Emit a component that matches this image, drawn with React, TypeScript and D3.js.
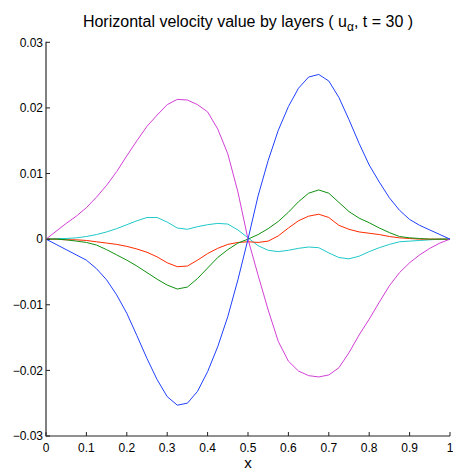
import React from "react";
import * as d3 from "d3";

const xs: number[] = [
  0, 0.025, 0.05, 0.075, 0.1, 0.125, 0.15, 0.175, 0.2, 0.225, 0.25, 0.275, 0.3, 0.325, 0.35, 0.375, 0.4, 0.425, 0.45, 0.475,
  0.5, 0.525, 0.55, 0.575, 0.6, 0.625, 0.65, 0.675, 0.7, 0.725, 0.75, 0.775, 0.8, 0.825, 0.85, 0.875, 0.9, 0.925, 0.95, 0.975, 1,
];

const blue: number[] = [
  0, -0.0008, -0.0016, -0.0024, -0.0032, -0.0045, -0.0062, -0.0085, -0.0113, -0.0147, -0.0182, -0.0214, -0.024, -0.0253, -0.025,
  -0.0232, -0.0202, -0.0164, -0.0118, -0.0062, 0.0, 0.0066, 0.012, 0.0166, 0.0202, 0.023, 0.0247, 0.0251, 0.0241, 0.0216, 0.0182,
  0.0146, 0.0113, 0.0087, 0.0063, 0.0044, 0.003, 0.0021, 0.0014, 0.0007, 0,
];

const magenta: number[] = [
  0, 0.0012, 0.0024, 0.0035, 0.0048, 0.0064, 0.0082, 0.0103, 0.0127, 0.015, 0.0172, 0.0189, 0.0205, 0.0213, 0.0212, 0.0205,
  0.0194, 0.0168, 0.013, 0.0072, 0.0, -0.0055, -0.0108, -0.0156, -0.0186, -0.0201, -0.0208, -0.021, -0.0207, -0.0196, -0.0173,
  -0.0146, -0.0122, -0.0096, -0.0071, -0.0051, -0.0036, -0.0024, -0.0014, -0.0006, 0,
];

const green: number[] = [
  0, 0, -0.0001, -0.0003, -0.0005, -0.0009, -0.0016, -0.0024, -0.0032, -0.0041, -0.0051, -0.0061, -0.007, -0.0076, -0.0073,
  -0.006, -0.0044, -0.0028, -0.0016, -0.0006, 0, 0.0007, 0.0016, 0.0027, 0.0041, 0.0057, 0.007, 0.0075, 0.007, 0.0056, 0.0042,
  0.0032, 0.0025, 0.0017, 0.001, 0.0004, 0.0002, 0.0001, 0, 0, 0,
];

const red: number[] = [
  0, 0, -0.0001, -0.0001, -0.0002, -0.0004, -0.0006, -0.0008, -0.0011, -0.0015, -0.002, -0.0027, -0.0036, -0.0042, -0.0041,
  -0.0032, -0.0022, -0.0014, -0.0008, -0.0005, -0.0004, -0.0005, -0.0003, 0.0005, 0.0017, 0.0028, 0.0035, 0.0038, 0.0033,
  0.0021, 0.0015, 0.0011, 0.0009, 0.0007, 0.0004, 0.0002, 0.0001, 0, 0, 0, 0,
];

const cyan: number[] = [
  0, 0.0001, 0.0001, 0.0002, 0.0004, 0.0007, 0.0011, 0.0016, 0.0022, 0.0028, 0.0033, 0.0033, 0.0026, 0.0017, 0.0015, 0.0019,
  0.0022, 0.0024, 0.0023, 0.0014, 0.0002, -0.001, -0.0017, -0.0019, -0.0017, -0.0014, -0.0012, -0.0013, -0.0021, -0.0028,
  -0.003, -0.0026, -0.0019, -0.0013, -0.0008, -0.0004, -0.0003, -0.0002, -0.0001, 0, 0,
];

const xTicks: number[] = [0, 0.1, 0.2, 0.3, 0.4, 0.5, 0.6, 0.7, 0.8, 0.9, 1];
const yTicks: number[] = [-0.03, -0.02, -0.01, 0, 0.01, 0.02, 0.03];

const series = [
  { name: "cyan", values: cyan, color: "#1fc8c8" },
  { name: "red", values: red, color: "#ff2a00" },
  { name: "green", values: green, color: "#119111" },
  { name: "magenta", values: magenta, color: "#d23fd6" },
  { name: "blue", values: blue, color: "#2040ff" },
];

const W = 453;
const H = 471;
const left = 46;
const right = 450;
const top = 42.3;
const bottom = 436;

export default function App() {
  const x = d3.scaleLinear().domain([0, 1]).range([left, right]);
  const y = d3.scaleLinear().domain([-0.03, 0.03]).range([bottom, top]);
  const fmt = (v: number) => (v === 0 ? "0" : (v < 0 ? "\u22120" : "0") + d3.format(".2f")(Math.abs(v)).slice(1));
  const fmtX = (v: number) => (v === 0 ? "0" : v === 1 ? "1" : d3.format(".1f")(v));
  const font = "Liberation Sans, Arial, Helvetica, sans-serif";
  const line = d3
    .line<number>()
    .x((_, i) => x(xs[i]))
    .y((d) => y(d));
  return (
    <svg width={W} height={H} style={{ position: "absolute", left: 0, top: 0, background: "#fff" }}>
      <text x={248} y={27} textAnchor="middle" fontFamily={font} fontSize={16} fill="#000">
        Horizontal velocity value by layers ( u
        <tspan fontSize={12} dy={4}>α</tspan>
        <tspan dy={-4}>, t = 30 )</tspan>
      </text>
      {series.map((s) => (
        <path key={s.name} d={line(s.values) || ""} fill="none" stroke={s.color} strokeWidth={1} />
      ))}
      <line x1={left} x2={left} y1={top - 0.5} y2={bottom + 0.5} stroke="#808080" strokeWidth={2} />
      <line x1={left} x2={right} y1={bottom} y2={bottom} stroke="#222" strokeWidth={1} />
      {yTicks.map((t) => (
        <g key={"y" + t}>
          <line x1={left} x2={left + 4} y1={y(t)} y2={y(t)} stroke="#222" strokeWidth={1} />
          <text x={left - 3} y={y(t) + 4.3} textAnchor="end" fontFamily={font} fontSize={12} fill="#000">
            {fmt(t)}
          </text>
        </g>
      ))}
      {xTicks.map((t) => (
        <g key={"x" + t}>
          <line x1={x(t)} x2={x(t)} y1={bottom} y2={bottom - 4} stroke="#222" strokeWidth={1} />
          <text x={x(t)} y={451.5} textAnchor="middle" fontFamily={font} fontSize={12} fill="#000">
            {fmtX(t)}
          </text>
        </g>
      ))}
      <text x={248} y={468} textAnchor="middle" fontFamily={font} fontSize={15} fill="#000">
        x
      </text>
    </svg>
  );
}
